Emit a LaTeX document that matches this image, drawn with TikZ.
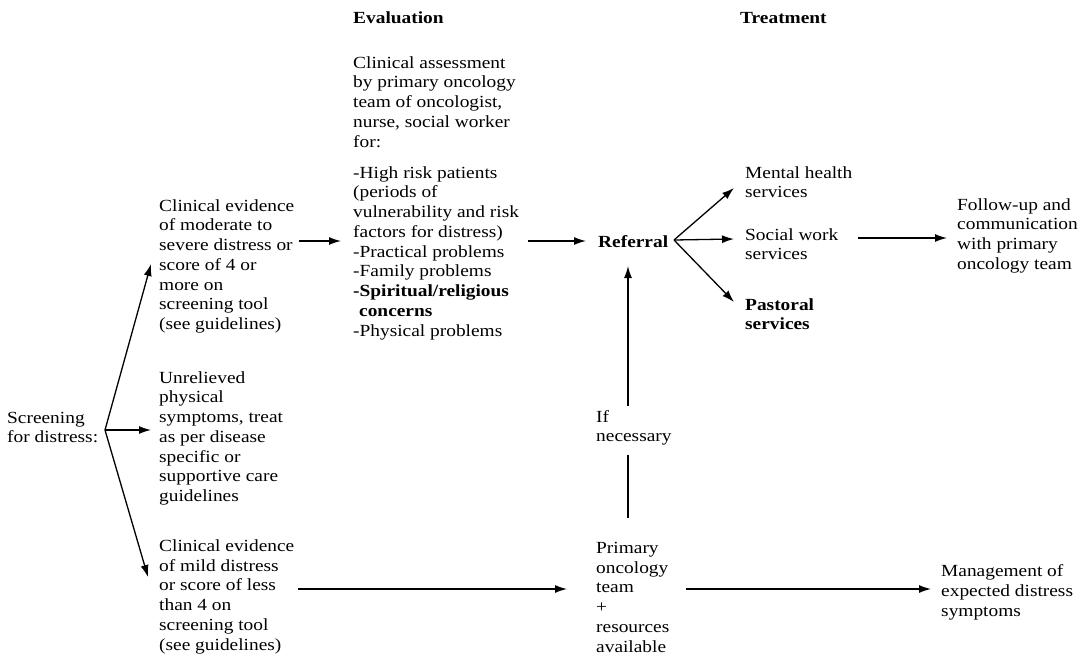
\documentclass[tikz,border=0pt]{standalone}
\usepackage{fontspec}
\setmainfont{Liberation Serif}[FakeStretch=1.14]
\usetikzlibrary{arrows.meta}
\begin{document}
\begin{tikzpicture}[x=1pt,y=-1pt,
  txt/.style={anchor=base west,align=left,inner sep=0pt,font=\fontsize{17}{19.75}\selectfont},
  head/.style={txt,font=\fontsize{17}{19.75}\selectfont\bfseries},
  conn/.style={line width=1.3pt},
  arr/.style={conn,-{Latex[length=12pt,width=8pt]}}]
\useasboundingbox (0,0) rectangle (1092,659);

% column headings
\node[head] (heval) at (353,23) {Evaluation};
\node[head] (htreat) at (740,23) {Treatment};

% screening and its three outcomes (positions give the baseline of the last line)
\node[txt] (screen) at (7,442.75) {Screening\\for distress:};
\node[txt] (severe) at (159,329.5) {Clinical evidence\\of moderate to\\severe distress or\\score of 4 or\\more on\\screening tool\\(see guidelines)};
\node[txt] (physical) at (159,501.5) {Unrelieved\\physical\\symptoms, treat\\as per disease\\specific or\\supportive care\\guidelines};
\node[txt] (mild) at (159,650) {Clinical evidence\\of mild distress\\or score of less\\than 4 on\\screening tool\\(see guidelines)};

% evaluation block
\node[txt] (assess) at (353,147) {Clinical assessment\\by primary oncology\\team of oncologist,\\nurse, social worker\\for:};
\node[txt] (concerns) at (353,336) {-High risk patients\\(periods of\\vulnerability and risk\\factors for distress)\\-Practical problems\\-Family problems\\\textbf{-Spiritual/religious}\\\hspace*{6pt}\textbf{concerns}\\-Physical problems};

% referral and services
\node[head] (referral) at (598,247) {Referral};
\node[txt] (mental) at (745,197.75) {Mental health\\services};
\node[txt] (social) at (745,259.75) {Social work\\services};
\node[head] (pastoral) at (745,329.75) {Pastoral\\services};
\node[txt] (follow) at (957,269.25) {Follow-up and\\communication\\with primary\\oncology team};

% primary team path
\node[txt] (ifnec) at (596,441.75) {If\\necessary};
\node[txt] (primary) at (596,652) {Primary\\oncology\\team\\+\\resources\\available};
\node[txt] (manage) at (941,616) {Management of\\expected distress\\symptoms};

% connector end points
\coordinate (fork) at (105,430);
\coordinate (tSevere) at (151,264);
\coordinate (tPhys) at (151,430);
\coordinate (tMild) at (148,577);
\coordinate (sevOut) at (299,241);
\coordinate (evalIn) at (341,241);
\coordinate (evalOut) at (528,241);
\coordinate (refIn) at (586,241);
\coordinate (refOut) at (674,240);
\coordinate (tMental) at (734,188);
\coordinate (tSocial) at (734,239);
\coordinate (tPastoral) at (734,302);
\coordinate (socOut) at (858,238);
\coordinate (tFollow) at (947,238);
\coordinate (mildOut) at (298,589);
\coordinate (tPrimary) at (567,589);
\coordinate (primOut) at (686,589);
\coordinate (tManage) at (931,589);
\coordinate (upLow) at (628,518);
\coordinate (upLowTop) at (628,455);
\coordinate (upHigh) at (628,406);
\coordinate (tReferral) at (628,266);

\draw[arr] (fork) -- (tSevere);
\draw[arr] (fork) -- (tPhys);
\draw[arr] (fork) -- (tMild);
\draw[arr] (sevOut) -- (evalIn);
\draw[arr] (evalOut) -- (refIn);
\draw[arr] (refOut) -- (tMental);
\draw[arr] (refOut) -- (tSocial);
\draw[arr] (refOut) -- (tPastoral);
\draw[arr] (socOut) -- (tFollow);
\draw[arr] (mildOut) -- (tPrimary);
\draw[arr] (primOut) -- (tManage);
\draw[conn] (upLow) -- (upLowTop);
\draw[arr] (upHigh) -- (tReferral);
\end{tikzpicture}
\end{document}
